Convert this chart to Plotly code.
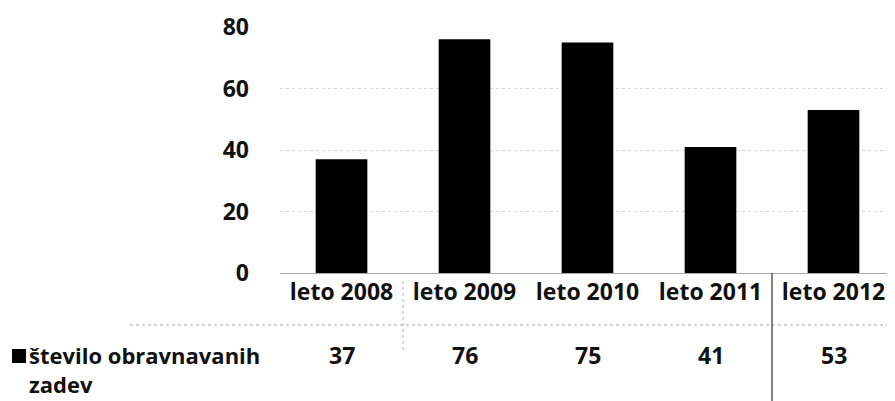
import plotly.graph_objects as go

categories = ["leto 2008", "leto 2009", "leto 2010", "leto 2011", "leto 2012"]
values = [37, 76, 75, 41, 53]
series_label = "število obravnavanih<br>zadev"
y_ticks = [0, 20, 40, 60, 80]

# the page body adds an 8px offset; size the figure to fill the window
OFF = 8
W, H = 895 - OFF, 401 - OFF
FONT = "Open Sans"
FS = 23
TXT = "#111"


def px(x):  # screen x -> paper x
    return (x - OFF) / W


def py(y):  # screen y -> paper y
    return (H - (y - OFF)) / H


fig = go.Figure()
fig.add_trace(go.Bar(
    x=categories, y=values,
    marker=dict(color="black", line=dict(width=0)),
    showlegend=False,
))

# data table values row
for c, v in zip(categories, values):
    fig.add_annotation(x=c, xref="x", y=py(355), yref="paper",
                       yanchor="middle", text="<b>%d</b>" % v, showarrow=False,
                       font=dict(family=FONT, size=FS, color=TXT))

# legend key + series label of the data table
fig.add_shape(type="rect", xref="paper", yref="paper",
              x0=px(12), x1=px(26), y0=py(363), y1=py(349),
              fillcolor="black", line=dict(width=0))
fig.add_annotation(x=px(28), xref="paper", y=py(339), yref="paper",
                   xanchor="left", yanchor="top", align="left",
                   text="<b>%s</b>" % series_label, showarrow=False,
                   borderpad=0,
                   font=dict(family=FONT, size=22, color=TXT))

# table horizontal line
fig.add_shape(type="line", xref="paper", yref="paper",
              x0=px(130), x1=1, y0=py(325), y1=py(325),
              line=dict(color="#a8a8a8", width=1, dash="dot"))
# table vertical separators
fig.add_shape(type="line", xref="x", yref="paper", x0=0.5, x1=0.5,
              y0=py(350), y1=py(280),
              line=dict(color="#b0b0b0", width=1, dash="dot"))
fig.add_shape(type="line", xref="x", yref="paper", x0=3.5, x1=3.5,
              y0=0, y1=py(273),
              line=dict(color="#333", width=1.2))

fig.update_layout(
    width=W, height=H,
    margin=dict(l=0, r=0, t=0, b=0, autoexpand=False),
    paper_bgcolor="white", plot_bgcolor="white",
    bargap=0.58,
    font=dict(family=FONT, size=FS, color=TXT),
    xaxis=dict(domain=[px(280), 1], showgrid=False, zeroline=False,
               showline=False, ticks="", ticklabelstandoff=3, automargin=False,
               tickvals=categories, ticktext=["<b>%s</b>" % c for c in categories],
               tickfont=dict(family=FONT, size=FS, color=TXT)),
    yaxis=dict(domain=[py(273), py(27)], range=[0, 80],
               tickvals=y_ticks, ticktext=["<b>%d</b>" % t for t in y_ticks],
               showgrid=True, gridcolor="#d6d6d6", automargin=False,
               griddash="dot", gridwidth=1, zeroline=True,
               zerolinecolor="#a8a8a8", zerolinewidth=1, showline=False,
               ticklabelstandoff=30,
               tickfont=dict(family=FONT, size=FS, color=TXT)),
)

fig.write_html("out.html")
